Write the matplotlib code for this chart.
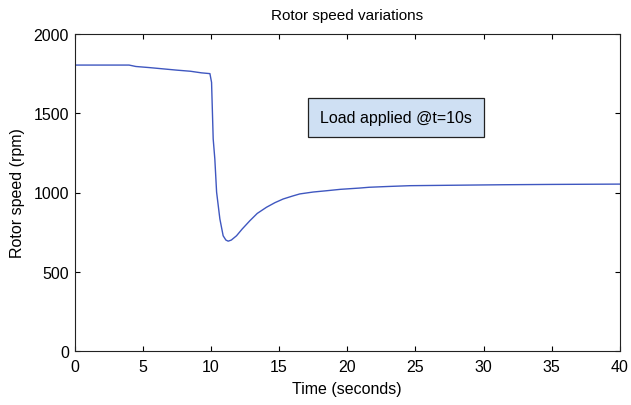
import matplotlib
matplotlib.use("Agg")
import matplotlib.pyplot as plt
import numpy as np

plt.rcParams['font.family'] = ['Liberation Sans', 'DejaVu Sans']

# Data
time_s = [0, 4.0, 4.5, 5.5, 6.5, 7.5, 8.5, 9.3, 9.93, 10.05, 10.17, 10.29, 10.42,
          10.66, 10.9, 11.1, 11.27, 11.5, 11.88, 12.3, 12.86, 13.4, 14.08, 14.7,
          15.3, 16.0, 16.52, 17.5, 18.47, 19.5, 20.9, 21.6, 23.0, 24.6, 28.0,
          31.5, 35.0, 40.0]
speed_rpm = [1804, 1804, 1795, 1788, 1780, 1772, 1765, 1755, 1750, 1695, 1338, 1211, 1002,
             833, 727, 700, 693, 700, 727, 770, 822, 868, 907, 936,
             959, 978, 991, 1003, 1011, 1020, 1028, 1033, 1038, 1043, 1046,
             1049, 1051, 1053]

title = "Rotor speed variations"
xlabel = "Time (seconds)"
ylabel = "Rotor speed (rpm)"
annotation = "Load applied @t=10s"
xticks = [0, 5, 10, 15, 20, 25, 30, 35, 40]
yticks = [0, 500, 1000, 1500, 2000]

fig = plt.figure(figsize=(6.31, 4.06), dpi=100)
ax = fig.add_axes([74.5/631, 1-352/406, (620-74.5)/631, (352-35)/406])

ax.plot(time_s, speed_rpm, color='#3f57c0', lw=1.0)

ax.set_xlim(0, 40)
ax.set_ylim(0, 2000)
ax.set_xticks(xticks)
ax.set_yticks(yticks)
ax.tick_params(direction='in', top=True, right=True, labelsize=11.5, length=3.5, width=0.8)
ax.tick_params(axis='x', pad=6)
ax.tick_params(axis='y', pad=4)
for s in ax.spines.values():
    s.set_color('#222222')
    s.set_linewidth(0.8)

ax.set_title(title, fontsize=11, pad=11)
ax.set_xlabel(xlabel, fontsize=11.5, labelpad=5)
ax.set_ylabel(ylabel, fontsize=11.5, labelpad=6)

ax.text(23.55, 1476, annotation, fontsize=11.5, ha='center', va='center',
        bbox=dict(boxstyle='square,pad=0.75', facecolor='#cfe0f3', edgecolor='#222222', linewidth=0.9))

fig.savefig("out.png", dpi=100)
